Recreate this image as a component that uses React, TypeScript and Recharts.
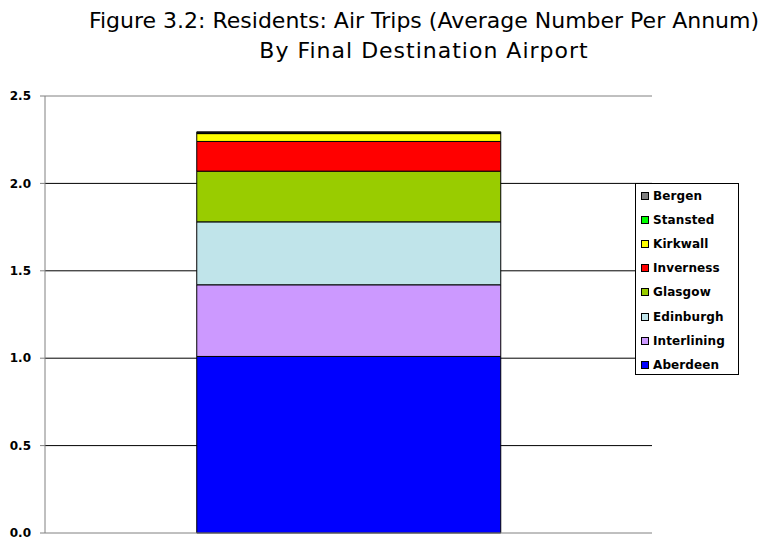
import React from "react";
import { BarChart, Bar, XAxis, YAxis, CartesianGrid, ReferenceLine } from "recharts";

const categories = ["Residents"];
const seriesNames = ["Aberdeen", "Interlining", "Edinburgh", "Glasgow", "Inverness", "Kirkwall", "Stansted", "Bergen"];
const seriesValues = [1.01, 0.41, 0.36, 0.29, 0.17, 0.045, 0.005, 0.005];
const seriesColors = ["#0000FF", "#CC99FF", "#C0E4EA", "#99CC00", "#FF0000", "#FFFF00", "#00FF00", "#808080"];
const yTicks = [0, 0.5, 1, 1.5, 2, 2.5];
const titleLines = [
  "Figure 3.2: Residents: Air Trips (Average Number Per Annum)",
  "By Final Destination Airport",
];

const data = categories.map((c) => {
  const row: Record<string, any> = { name: c };
  seriesNames.forEach((n, i) => {
    row[n] = seriesValues[i];
  });
  return row;
});

const LegendBox = () => {
  const items = seriesNames.map((n, i) => ({ name: n, color: seriesColors[i] })).reverse();
  return (
    <div
      style={{
        position: "absolute",
        left: 635,
        top: 183,
        width: 102,
        height: 190,
        border: "1px solid #000",
        background: "#fff",
        paddingTop: 0,
      }}
    >
      {items.map((it) => (
        <div key={it.name} style={{ height: 24.1, display: "flex", alignItems: "center" }}>
          <div
            style={{
              width: 6,
              height: 6,
              background: it.color,
              border: "1px solid #000",
              marginLeft: 5,
              marginRight: 4,
            }}
          />
          <span
            style={{
              fontFamily: "DejaVu Sans",
              fontWeight: "bold",
              fontSize: 12,
              color: "#000",
              letterSpacing: 0.1,
            }}
          >
            {it.name}
          </span>
        </div>
      ))}
    </div>
  );
};

export default function App() {
  return (
    <div style={{ position: "absolute", left: 0, top: 0, width: 768, height: 538, background: "#fff" }}>
      <div
        style={{
          position: "absolute",
          left: 0,
          top: 6,
          width: 768,
          textAlign: "center",
          paddingLeft: 80,
          boxSizing: "border-box",
          fontFamily: "DejaVu Sans",
          fontSize: 22,
          lineHeight: "30px",
          color: "#000",
        }}
      >
        {titleLines.map((t, i) => (
          <div key={t} style={{ letterSpacing: i === 1 ? 1 : 0 }}>
            {t}
          </div>
        ))}
      </div>
      <div style={{ position: "absolute", left: 0, top: 0 }}>
        <BarChart
          width={768}
          height={538}
          data={data}
          margin={{ top: 96, right: 116, left: 0, bottom: 5 }}
          barCategoryGap="25%"
        >
          <CartesianGrid vertical={false} stroke="#000" strokeWidth={1} horizontalValues={[0.5, 1, 1.5, 2]} />
          <XAxis dataKey="name" hide />
          <YAxis
            width={45}
            domain={[0, 2.5]}
            ticks={yTicks}
            tickFormatter={(v: number) => v.toFixed(1)}
            axisLine={{ stroke: "#808080" }}
            tickLine={{ stroke: "#808080" }}
            tickSize={5}
            tick={{ fontFamily: "DejaVu Sans", fontWeight: "bold", fontSize: 12, fill: "#000", dx: -7 }}
            interval={0}
          />
          <YAxis
            yAxisId="right"
            orientation="right"
            width={0}
            domain={[0, 2.5]}
            tick={false}
            tickLine={false}
            axisLine={{ stroke: "#808080" }}
          />
          <ReferenceLine y={2.5} stroke="#808080" />
          <ReferenceLine y={0} stroke="#808080" />
          {seriesNames.map((n, i) => (
            <Bar
              key={n}
              dataKey={n}
              stackId="a"
              fill={seriesColors[i]}
              stroke="#000"
              strokeWidth={1}
              isAnimationActive={false}
            />
          ))}
        </BarChart>
      </div>
      <LegendBox />
    </div>
  );
}
